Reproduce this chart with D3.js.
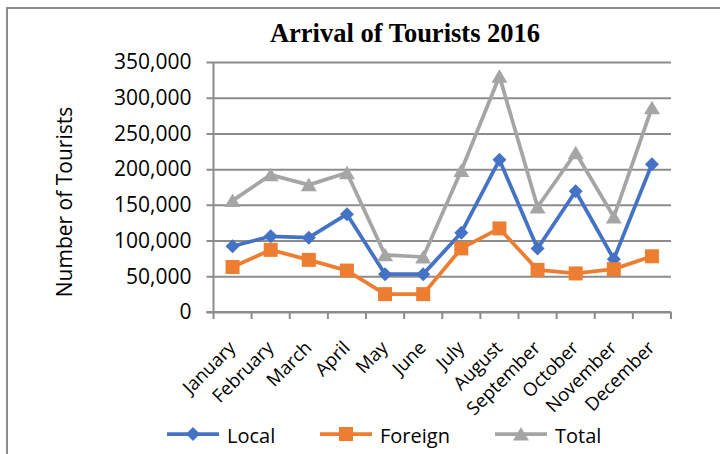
<!DOCTYPE html>
<html>
<head>
<meta charset="utf-8">
<script src="https://cdn.jsdelivr.net/npm/d3@7"></script>
<style>
  body { margin: 0; background: #fff; }
  svg { display: block; }
</style>
</head>
<body>
<svg width="720" height="454"></svg>
<script>
var width = 720;
var height = 454;

// data
var months = ['January', 'February', 'March', 'April', 'May', 'June', 'July', 'August', 'September', 'October', 'November', 'December'];
var local = [92000, 106000, 104000, 137000, 53000, 53000, 111000, 213000, 89000, 169000, 74000, 207000];
var foreign = [63000, 87000, 73000, 58000, 25000, 25000, 89000, 117000, 59000, 54000, 60000, 78000];
var total = [156000, 192000, 178000, 195000, 80000, 77000, 198000, 330000, 147000, 223000, 133000, 286000];
var yTicks = [0, 50000, 100000, 150000, 200000, 250000, 300000, 350000];

var series = [
    { name: 'Local', values: local, color: '#4472C4', marker: 'diamond' },
    { name: 'Foreign', values: foreign, color: '#ED7D31', marker: 'square' },
    { name: 'Total', values: total, color: '#A5A5A5', marker: 'triangle' }
];

var gridColor = '#8c8c8c';
var labelFont = "'Open Sans', sans-serif";

// plot area (window.top is reserved, so use plot* names)
var plotLeft = 213.5, plotRight = 671, plotTop = 62, plotBottom = 312;

var chart = d3.select('svg');

// outer frame (only top/left visible in the picture)
chart.append('rect')
    .attr('x', 7).attr('y', 8)
    .attr('width', 900).attr('height', 900)
    .attr('fill', 'none')
    .attr('stroke', gridColor)
    .attr('stroke-width', 2);

var x = d3.scaleBand().domain(months).range([plotLeft, plotRight]);
var y = d3.scaleLinear().domain([0, 350000]).range([plotBottom, plotTop]);

// title
chart.append('text')
    .attr('x', 405)
    .attr('y', 42)
    .attr('text-anchor', 'middle')
    .attr('font-family', "'Liberation Serif', 'Times New Roman', serif")
    .attr('font-weight', 'bold')
    .attr('font-size', '26.5px')
    .text('Arrival of Tourists 2016');

// y axis with gridlines
var yAxis = d3.axisLeft(y)
    .tickValues(yTicks)
    .tickSize(-(plotRight - plotLeft))
    .tickPadding(22)
    .tickFormat(function (d) { return d === 0 ? '0' : d3.format(',')(d); });

var yg = chart.append('g')
    .attr('transform', 'translate(' + plotLeft + ',0)')
    .call(yAxis);
yg.select('.domain').remove();
yg.selectAll('.tick line')
    .attr('x1', -7)
    .attr('stroke', gridColor)
    .attr('stroke-width', 2);
yg.selectAll('.tick text')
    .attr('font-family', labelFont)
    .attr('font-size', '21px')
    .attr('fill', '#000');

// vertical axis line
chart.append('line')
    .attr('x1', plotLeft).attr('x2', plotLeft)
    .attr('y1', plotTop).attr('y2', plotBottom)
    .attr('stroke', gridColor)
    .attr('stroke-width', 2);

// y axis title
chart.append('text')
    .attr('transform', 'translate(72,' + ((plotTop + plotBottom) / 2 + 15) + ') rotate(-90)')
    .attr('text-anchor', 'middle')
    .attr('font-family', labelFont)
    .attr('font-size', '21px')
    .text('Number of Tourists');

// x axis: ticks on category boundaries
var xg = chart.append('g')
    .attr('transform', 'translate(0,' + plotBottom + ')');
xg.append('line')
    .attr('x1', plotLeft - 7).attr('x2', plotRight)
    .attr('stroke', gridColor)
    .attr('stroke-width', 2);
var bounds = months.map(function (m) { return x(m); }).concat([plotRight]);
xg.selectAll('.xtick')
    .data(bounds)
    .enter()
    .append('line')
    .attr('class', 'xtick')
    .attr('x1', function (d) { return d; })
    .attr('x2', function (d) { return d; })
    .attr('y1', 0).attr('y2', 7)
    .attr('stroke', gridColor)
    .attr('stroke-width', 2);

// rotated month labels
chart.selectAll('.month')
    .data(months)
    .enter()
    .append('text')
    .attr('class', 'month')
    .attr('text-anchor', 'end')
    .attr('font-family', labelFont)
    .attr('font-size', '18.5px')
    .attr('transform', function (d) {
        var cx = x(d) + x.bandwidth() / 2;
        return 'translate(' + (cx + 4) + ',' + (plotBottom + 37) + ') rotate(-45)';
    })
    .text(function (d) { return d; });

// marker shapes
function markerPath(type) {
    if (type === 'diamond') return 'M0,-7L7,0L0,7L-7,0Z';
    if (type === 'square') return 'M-7,-7L7,-7L7,7L-7,7Z';
    return 'M0,-7L8,6.5L-8,6.5Z';
}

var line = d3.line()
    .x(function (d, i) { return x(months[i]) + x.bandwidth() / 2; })
    .y(function (d) { return y(d); });

series.forEach(function (s) {
    var g = chart.append('g');
    g.append('path')
        .datum(s.values)
        .attr('d', line)
        .attr('fill', 'none')
        .attr('stroke', s.color)
        .attr('stroke-width', 3.75)
        .attr('stroke-linejoin', 'round');
    g.selectAll('.pt')
        .data(s.values)
        .enter()
        .append('path')
        .attr('class', 'pt')
        .attr('d', markerPath(s.marker))
        .attr('fill', s.color)
        .attr('transform', function (d, i) {
            return 'translate(' + (x(months[i]) + x.bandwidth() / 2) + ',' + y(d) + ')';
        });
});

// legend
var legendX = [167, 320, 495];
var legendY = 434;
series.forEach(function (s, i) {
    var lg = chart.append('g').attr('transform', 'translate(' + legendX[i] + ',' + legendY + ')');
    lg.append('line')
        .attr('x1', 0).attr('x2', 52)
        .attr('stroke', s.color)
        .attr('stroke-width', 3.75);
    lg.append('path')
        .attr('d', markerPath(s.marker))
        .attr('fill', s.color)
        .attr('transform', 'translate(26,0)');
    lg.append('text')
        .attr('x', 60)
        .attr('y', 9)
        .attr('font-family', labelFont)
        .attr('font-size', '20px')
        .text(s.name);
});
</script>
</body>
</html>
